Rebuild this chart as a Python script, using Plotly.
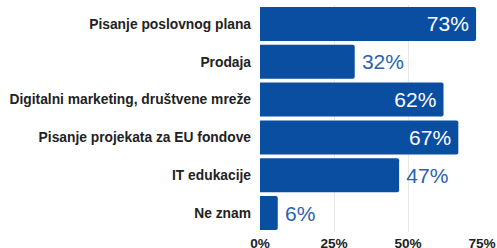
import plotly.graph_objects as go

categories = ["Pisanje poslovnog plana", "Prodaja", "Digitalni marketing, društvene mreže",
              "Pisanje projekata za EU fondove", "IT edukacije", "Ne znam"]
values = [73, 32, 62, 67, 47, 6]
tick_vals = [0, 25, 50, 75]
tick_text = ["0%", "25%", "50%", "75%"]

positions = ["inside", "outside", "inside", "inside", "outside", "outside"]
labels = [(f"{v}%\u2009" if p == "inside" else f"\u2009{v}%") for v, p in zip(values, positions)]

fig = go.Figure(go.Bar(
    x=values, y=categories, orientation="h",
    marker=dict(color="#0a4ea2", line=dict(width=0)),
    text=labels,
    textposition=positions,
    insidetextanchor="end",
    insidetextfont=dict(color="white", size=21, family="Liberation Sans, Arial"),
    outsidetextfont=dict(color="#2a62b0", size=21, family="Liberation Sans, Arial"),
    cliponaxis=False,
    width=0.9,
    hoverinfo="skip",
))
fig.update_layout(
    width=497, height=248,
    margin=dict(l=260, r=15, t=5, b=16),
    plot_bgcolor="white", paper_bgcolor="white",
    barcornerradius=2,
    showlegend=False,
    font=dict(family="Liberation Sans, Arial", size=13.8, color="#222"),
)
fig.update_yaxes(autorange="reversed", automargin=False,
                 tickfont=dict(size=13.8, family="Liberation Sans, Arial", weight="bold", color="#222"),
                 ticklabelstandoff=8, showgrid=False)
fig.update_xaxes(range=[0, 75], tickvals=tick_vals, ticktext=tick_text, showgrid=True,
                 automargin=False, gridcolor="#e8e8e8", zeroline=False, ticklabelstandoff=1,
                 tickfont=dict(size=13.6, weight="bold", color="#222", family="Liberation Sans, Arial"))
fig.write_html("out.html", post_script="document.body.style.margin='0';",
               config={"displayModeBar": False})
